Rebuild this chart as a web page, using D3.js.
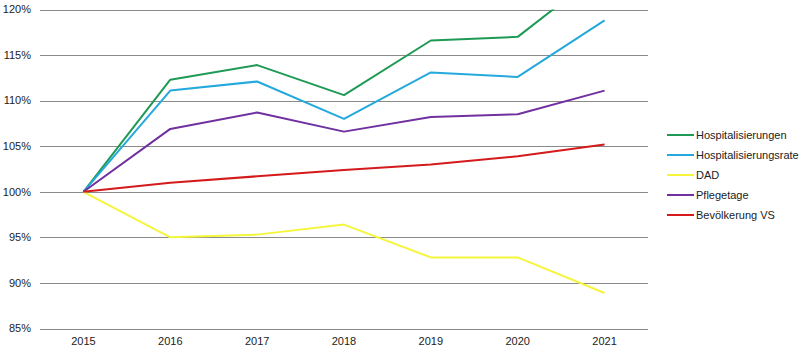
<!DOCTYPE html>
<html><head><meta charset="utf-8">
<script src="https://cdn.jsdelivr.net/npm/d3@7"></script>
<style>body{margin:0;background:#fff;}svg{display:block;font-family:"Liberation Sans",Arial,sans-serif;}</style>
</head><body><svg id="c" width="803" height="356"></svg>
<script>
const years = ["2015","2016","2017","2018","2019","2020","2021"];
const yTicks = [85,90,95,100,105,110,115,120];
const hospitalisierungen = [100,112.3,113.9,110.6,116.6,117.0,124.4];
const hospitalisierungsrate = [100,111.1,112.1,108.0,113.1,112.6,118.8];
const dad = [100,95.0,95.3,96.4,92.8,92.8,88.9];
const pflegetage = [100,106.9,108.7,106.6,108.2,108.5,111.1];
const bevoelkerung = [100,101.0,101.7,102.4,103.0,103.9,105.2];
const seriesNames = ["Hospitalisierungen","Hospitalisierungsrate","DAD","Pflegetage","Bevölkerung VS"];
const seriesColors = ["#1f9a55","#25a9dc","#f5f53c","#7030a0","#d41a1a"];
const seriesData = [hospitalisierungen,hospitalisierungsrate,dad,pflegetage,bevoelkerung];

const svg = d3.select("#c");
const L=40,R=648,T=9.5,B=328.5;
const x = d3.scalePoint().domain(years).range([L,R]).padding(0.5);
const y = d3.scaleLinear().domain([85,120]).range([B,T]);

svg.append("defs").append("clipPath").attr("id","clip").append("rect")
  .attr("x",L).attr("y",T).attr("width",R-L).attr("height",B-T);

const g = svg.append("g");
g.selectAll("line.grid").data(yTicks).join("line")
  .attr("x1",L).attr("x2",R).attr("y1",d=>Math.round(y(d))+0.5).attr("y2",d=>Math.round(y(d))+0.5)
  .attr("stroke","#8a8a8a").attr("stroke-width",1);
g.selectAll("text.yl").data(yTicks).join("text")
  .attr("x",31).attr("y",d=>y(d)).attr("dy","0.35em").attr("text-anchor","end")
  .attr("font-size",11).attr("fill","#222").text(d=>d+"%");
g.selectAll("text.xl").data(years).join("text")
  .attr("x",d=>x(d)).attr("y",345).attr("text-anchor","middle")
  .attr("font-size",11).attr("fill","#222").text(d=>d);

const line = d3.line().x((d,i)=>x(years[i])).y(d=>y(d));
const lines = svg.append("g").attr("clip-path","url(#clip)");
seriesData.forEach((s,i)=>{
  lines.append("path").attr("d",line(s)).attr("fill","none")
    .attr("stroke",seriesColors[i]).attr("stroke-width",2).attr("stroke-linejoin","round");
});

const lg = svg.append("g");
seriesNames.forEach((n,i)=>{
  const yy = 135 + i*20;
  lg.append("line").attr("x1",667).attr("x2",694).attr("y1",yy).attr("y2",yy)
    .attr("stroke",seriesColors[i]).attr("stroke-width",2);
  lg.append("text").attr("x",696).attr("y",yy).attr("dy","0.35em")
    .attr("font-size",11).attr("fill","#222").text(n);
});
</script></body></html>
